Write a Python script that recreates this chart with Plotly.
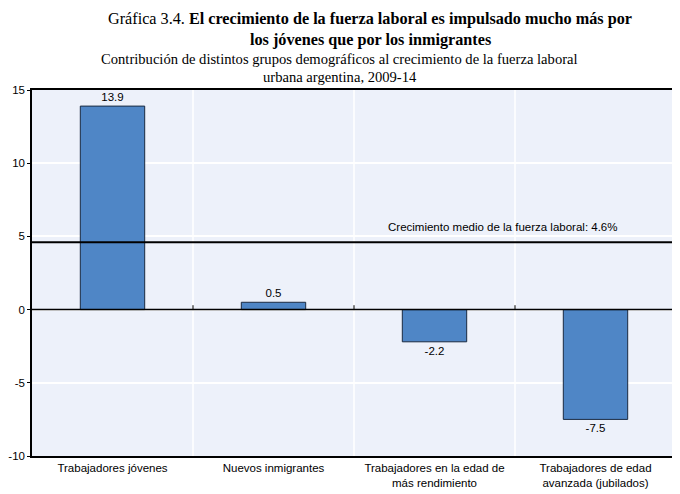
import plotly.graph_objects as go

categories = ["Trabajadores jóvenes", "Nuevos inmigrantes",
              "Trabajadores en la edad de<br>más rendimiento",
              "Trabajadores de edad<br>avanzada (jubilados)"]
values = [13.9, 0.5, -2.2, -7.5]
value_labels = ["13.9", "0.5", "-2.2", "-7.5"]
average = 4.6
average_label = "Crecimiento medio de la fuerza laboral: 4.6%"
y_ticks = [-10, -5, 0, 5, 10, 15]

xpos = list(range(len(categories)))
sans = "Liberation Sans, Arial, sans-serif"
serif = "Liberation Serif, DejaVu Serif, serif"

fig = go.Figure()
fig.add_trace(go.Bar(
    x=xpos, y=values, width=0.4,
    marker=dict(color="#4F86C6", line=dict(color="#1a2a40", width=1)),
    text=value_labels, textposition="outside", cliponaxis=False,
    textfont=dict(family=sans, size=11.5, color="#000"),
))

shapes = []
for b in [0.5, 1.5, 2.5]:
    shapes.append(dict(type="line", xref="x", yref="paper", x0=b, x1=b, y0=0, y1=1,
                       line=dict(color="white", width=1.5), layer="below"))
    shapes.append(dict(type="line", xref="x", yref="y", x0=b, x1=b, y0=0, y1=0.3,
                       line=dict(color="black", width=1)))
shapes.append(dict(type="line", xref="paper", yref="y", x0=0, x1=1, y0=0, y1=0,
                   line=dict(color="black", width=1.5)))
shapes.append(dict(type="line", xref="paper", yref="y", x0=0, x1=1, y0=average, y1=average,
                   line=dict(color="black", width=2)))
fig.update_layout(shapes=shapes)

fig.add_annotation(x=2.42, y=average, xref="x", yref="y", text=average_label,
                   showarrow=False, yshift=15, xanchor="center",
                   font=dict(family=sans, size=11.5, color="#000"))

title_lines = [
    ("Gráfica 3.4. <b>El crecimiento de la fuerza laboral es impulsado mucho más por</b>", 0.525, 71, 16.2),
    ("<b>los jóvenes que por los inmigrantes</b>", 0.525, 50, 16.2),
    ("Contribución de distintos grupos demográficos al crecimiento de la fuerza laboral", 0.478, 31, 14.6),
    ("urbana argentina, 2009-14", 0.478, 13, 14.6),
]
for txt, xp, ys, fs in title_lines:
    fig.add_annotation(x=xp, y=1.0, xref="paper", yref="paper", yanchor="middle",
                       xanchor="center", text=txt, showarrow=False, yshift=ys,
                       font=dict(family=serif, size=fs, color="#000"))

fig.update_layout(
    width=672, height=486,
    margin=dict(l=24, r=4, t=82, b=38),
    paper_bgcolor="white", plot_bgcolor="#EDF1FA",
    showlegend=False, bargap=0.6,
    font=dict(family=sans, size=11.5, color="#000"),
    xaxis=dict(range=[-0.5, 3.5], tickvals=xpos, ticktext=categories, automargin=False,
               showgrid=False, zeroline=False, showline=True, mirror=True,
               linecolor="black", linewidth=1.5, ticks="", tickfont=dict(size=11.5)),
    yaxis=dict(range=[-10, 15], tickvals=y_ticks, ticktext=[str(v) for v in y_ticks],
               automargin=False,
               showgrid=True, gridcolor="white", gridwidth=1.5, zeroline=False,
               showline=True, mirror=True, linecolor="black", linewidth=1.5,
               ticks="outside", ticklen=3, tickcolor="black", tickfont=dict(size=11.5)),
)

fig.write_html("out.html")
